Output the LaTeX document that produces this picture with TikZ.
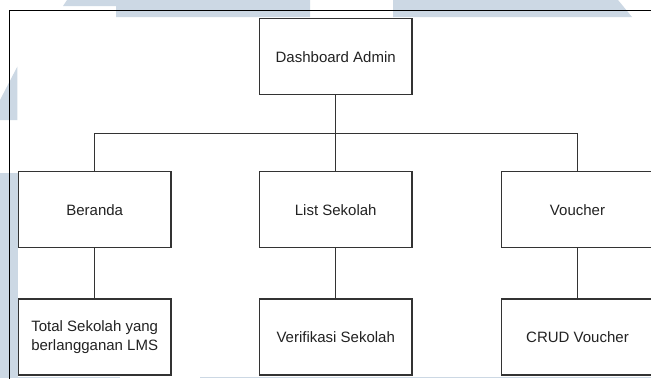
\documentclass[tikz,border=0pt]{standalone}
\usepackage{fontspec}
\setmainfont{Liberation Sans}
\definecolor{wmark}{RGB}{204,216,228}
\definecolor{boxline}{RGB}{51,51,51}
\definecolor{boxtext}{RGB}{34,34,34}
\tikzset{
  menubox/.style={draw=boxline, line width=1.3pt, fill=none, minimum width=152.7pt,
    minimum height=76pt, inner sep=0pt, text=boxtext, align=center,
    font=\fontsize{15pt}{18.3pt}\selectfont},
  link/.style={draw=boxline, line width=1.3pt},
}
\begin{document}
\begin{tikzpicture}[x=1pt, y=-1pt]
  \useasboundingbox (0,0) rectangle (651,378);
  \clip (0,0) rectangle (651,378);
  \fill[white] (0,0) rectangle (651,378);

  % light background shapes
  \fill[wmark] (67,0) -- (310,0) -- (310,17) -- (116,17) -- (116,6) -- (63,6) -- cycle;
  \fill[wmark] (393,0) -- (618,0) -- (632,17) -- (393,17) -- cycle;
  \fill[wmark] (0,100) -- (17.3,66.7) -- (17.3,120) -- (0,120) -- cycle;
  \fill[wmark] (0,173) rectangle (17.5,378);
  \fill[wmark] (0,376.6) rectangle (120,378);
  \fill[wmark] (200,376.6) rectangle (651,378);

  % outer frame
  \draw[black, line width=1pt] (9,400) -- (9,10.5) -- (700,10.5);

  % menu boxes
  \node[menubox] (dash)    at (335.7,56.7) {Dashboard Admin};
  \node[menubox] (beranda) at (94.7,209.7) {Beranda};
  \node[menubox] (list)    at (335.7,209.7) {List Sekolah};
  \node[menubox] (voucher) at (577.5,209.7) {Voucher};
  \node[menubox] (total)   at (94.7,337) {Total Sekolah yang\\berlangganan LMS};
  \node[menubox] (verif)   at (335.7,337) {Verifikasi Sekolah};
  \node[menubox] (crud)    at (577.5,337) {CRUD Voucher};

  % connectors
  \coordinate (bus) at (335.7,133.3);
  \draw[link] (dash.south) -- (bus);
  \draw[link] (beranda.north) |- (bus) -| (voucher.north);
  \draw[link] (bus) -- (list.north);
  \draw[link] (beranda.south) -- (total.north);
  \draw[link] (list.south) -- (verif.north);
  \draw[link] (voucher.south) -- (crud.north);
\end{tikzpicture}
\end{document}
